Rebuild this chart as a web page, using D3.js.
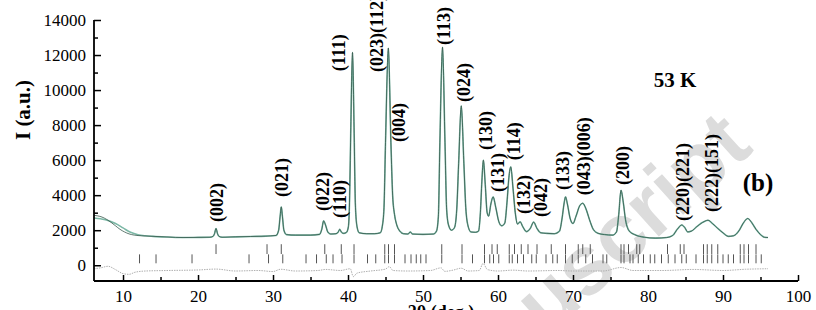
<!DOCTYPE html>
<html>
<head>
    <meta charset="utf-8">
    <title>xrd 53K</title>
    <script type="text/javascript" src="https://d3js.org/d3.v7.min.js"></script>
    <style>
      body { margin: 0; background: #fff; }
      text { font-family: "Liberation Serif", "Times New Roman", serif; }
    </style>
</head>
<body>
<script type="text/javascript">

        var observed = [
            [6.13,2850],[6.6,2820],[7.2,2750],[7.8,2620],[8.4,2450],[9.0,2250],[9.6,2050],[10.2,1900],
            [10.8,1790],[11.5,1720],[12.5,1680],[14,1650],[16,1610],[18,1580],[20,1590],[21.6,1600],
            [22.0,1650],[22.2,1800],[22.4,2100],[22.6,1800],[22.8,1650],[23.2,1600],[25,1620],[27,1640],
            [29,1660],[30.4,1700],[30.75,2000],[30.95,2800],[31.1,3330],[31.25,2800],[31.45,2000],[31.8,1750],
            [33,1720],[35,1720],[36.2,1760],[36.5,2050],[36.75,2530],[37.0,2300],[37.3,1900],[37.7,1780],
            [38.4,1800],[38.7,1900],[38.9,2050],[39.1,1900],[39.4,1820],[39.8,1880],[40.05,2200],[40.2,3600],
            [40.36,7500],[40.6,12150],[40.82,7500],[40.97,3600],[41.2,2200],[41.5,1850],[42.5,1800],[43.5,1800],
            [44.3,1850],[44.6,2300],[44.8,3300],[45.0,7000],[45.38,12400],[45.72,7000],[45.95,4000],[46.2,2900],
            [46.5,2300],[46.9,1950],[47.4,1800],[48.0,1780],[48.3,1900],[48.6,1780],[50,1760],[51.4,1780],
            [51.8,1950],[52.05,2800],[52.25,7000],[52.6,12450],[52.93,7000],[53.15,3200],[53.4,2300],[53.8,2000],
            [54.2,2150],[54.5,3200],[54.75,5800],[55.1,9100],[55.45,5800],[55.7,3300],[56.0,2250],[56.4,1900],
            [57.0,1880],[57.4,1950],[57.65,3000],[57.85,4800],[58.05,6000],[58.3,4600],[58.55,3000],[58.75,2800],
            [59.05,3500],[59.35,3900],[59.7,3300],[60.1,2500],[60.5,2250],[60.9,2400],[61.2,3600],[61.45,5000],
            [61.7,5620],[62.0,4400],[62.3,3000],[62.6,2350],[62.95,2480],[63.3,2200],[63.8,1920],[64.3,2100],
            [64.75,2460],[65.2,2100],[65.7,1850],[66.5,1820],[67.5,1800],[68.2,1950],[68.55,2700],[68.8,3500],
            [69.0,3900],[69.25,3500],[69.6,2700],[70.0,2380],[70.4,2800],[70.9,3400],[71.3,3540],[71.7,3250],
            [72.2,2600],[72.7,2050],[73.3,1830],[74.2,1750],[75.3,1720],[75.8,1900],[76.1,2900],[76.4,4285],
            [76.7,3600],[77.0,2600],[77.5,1950],[78.2,1750],[79.5,1600],[81,1550],[82.5,1580],[83.3,1700],
            [83.9,2050],[84.5,2300],[84.9,2150],[85.3,1900],[85.8,1950],[86.5,2200],[87.3,2450],[88.0,2570],
            [88.6,2380],[89.3,2100],[90.0,1850],[90.7,1650],[91.4,1680],[92.1,1950],[92.7,2400],[93.3,2670],
            [93.8,2450],[94.4,2050],[95.0,1750],[95.5,1600],[96.0,1580]
        ];
        // calculated curve only departs from the observed one at low angle
        var calcLow = [
            [6.13,2700],[7,2650],[8,2560],[9,2380],[10,2130],[11,1880],[12,1740],[13,1680]
        ];
        // obs - calc
        var difference = [
            [6.13,-200],[7,-150],[8,-60],[9,-250],[10,-480],[10.8,-520],[11.6,-400],[13,-330],[16,-300],
            [20,-270],[22.4,-220],[25,-330],[28,-300],[30,-360],[31,-230],[33,-330],[36,-300],[37,-240],
            [39,-300],[40.3,-200],[40.7,-650],[41.2,-450],[43,-330],[45,-220],[45.5,-80],[46,-300],[48,-330],
            [51,-300],[52.4,-150],[52.9,-350],[54,-280],[55.1,-170],[56,-330],[57.5,-300],[58,100],[58.6,-250],
            [60,-330],[62,-280],[64,-330],[68,-300],[70,-330],[74,-330],[76.4,-130],[78,-300],[82,-300],
            [86,-240],[90,-300],[93,-230],[96,-200]
        ];
        var braggUpper = [22.4, 29.2, 31.1, 36.9, 39.1, 40.8, 44.9, 45.4, 46.2, 52.5, 55.2, 58.2, 59.2, 59.9,
            61.5, 62.2, 63.1, 64.0, 65.2, 67.1, 69.0, 70.7, 71.3, 72.3, 76.4, 76.8, 77.4, 78.5, 78.9, 82.6,
            84.3, 84.8, 87.4, 87.9, 88.5, 89.3, 92.3, 92.8, 93.4, 94.4];
        var braggLower = [12.2, 14.4, 19.2, 26.8, 29.4, 31.3, 34.4, 35.8, 37.1, 38.0, 39.2, 40.8, 42.6, 43.7,
            44.9, 45.4, 46.2, 47.6, 48.4, 49.1, 49.7, 50.4, 52.5, 55.2, 56.6, 58.2, 58.9, 59.4, 60.1, 61.5,
            61.9, 62.6, 63.4, 64.5, 65.1, 66.4, 67.3, 67.9, 69.0, 69.9, 70.7, 71.7, 72.6, 74.0, 74.5, 76.4,
            76.8, 77.6, 78.0, 78.7, 79.4, 80.3, 80.9, 81.8, 82.7, 83.6, 84.5, 85.1, 86.4, 87.4, 87.9, 88.5,
            89.3, 90.0, 90.7, 91.4, 92.3, 92.8, 93.4, 94.4, 95.1];
        var braggRows = [[1200, 640], [620, 110]];

        var hklText  = ["(002)","(021)","(022)","(110)","(111)","(023)(112)","(004)","(113)","(024)","(130)",
                        "(131)","(114)","(132)","(042)","(133)","(043)(006)","(200)","(220)(221)","(222)(151)"];
        var hklAngle = [22.49, 31.16, 36.6, 38.84, 38.8, 43.8, 46.77, 52.77, 55.36, 58.33,
                        59.97, 62.1, 63.44, 65.67, 68.56, 71.44, 76.56, 84.56, 88.43];
        var hklBase  = [2465, 3890, 3090, 2690, 11080, 11030, 7030, 12570, 9320, 6575,
                        4180, 6000, 2920, 2750, 4290, 4000, 4580, 2520, 3040];

        var xMajor = [10, 20, 30, 40, 50, 60, 70, 80, 90, 100];
        var xMinor = [15, 25, 35, 45, 55, 65, 75, 85, 95];
        var yMajor = [0, 2000, 4000, 6000, 8000, 10000, 12000, 14000];
        var yMinor = [1000, 3000, 5000, 7000, 9000, 11000, 13000];

        var width = 816
        var height = 310

        var svg = d3.select("body").append("svg").attr("width", width).attr("height", height)

        var x = d3.scaleLinear().domain([6.13, 100]).range([94, 798])
        var y = d3.scaleLinear().domain([-900, 14000]).range([281, 20])

        // watermark
        svg.append("text")
            .attr("transform", "translate(755,150) rotate(-42)")
            .attr("text-anchor", "end")
            .style("font-family", "'Liberation Sans', Arial, sans-serif")
            .style("font-weight", "bold")
            .style("font-size", "84px")
            .attr("fill", "#dcdcdc")
            .text("Manuscript")

        var line = d3.line()
            .x(function(d) { return x(d[0]) })
            .y(function(d) { return y(d[1]) })
            .curve(d3.curveMonotoneX)

        // difference curve
        svg.append("path")
            .datum(difference)
            .attr("d", line)
            .attr("fill", "none")
            .attr("stroke", "#b0b0b0")
            .attr("stroke-width", 1)
            .attr("stroke-dasharray", "1.5,1")

        // bragg positions
        var rows = [braggUpper, braggLower]
        for (var r = 0; r < rows.length; r++) {
            svg.selectAll(".bragg" + r)
                .data(rows[r])
                .enter()
                .append("line")
                .attr("class", "bragg" + r)
                .attr("x1", function(d) { return x(d) })
                .attr("x2", function(d) { return x(d) })
                .attr("y1", y(braggRows[r][0]))
                .attr("y2", y(braggRows[r][1]))
                .attr("stroke", "#555")
                .attr("stroke-width", 1)
        }

        // calculated then observed
        var calc = calcLow.concat(observed.filter(function(d) { return d[0] > 13 }))
        svg.append("path")
            .datum(calc)
            .attr("d", line)
            .attr("fill", "none")
            .attr("stroke", "#7cb8a6")
            .attr("stroke-width", 1.6)

        svg.append("path")
            .datum(observed)
            .attr("d", line)
            .attr("fill", "none")
            .attr("stroke", "#35574a")
            .attr("stroke-width", 0.8)

        // hkl labels
        svg.selectAll(".hkl")
            .data(hklText)
            .enter()
            .append("text")
            .attr("class", "hkl")
            .attr("transform", function(d, i) {
                return "translate(" + x(hklAngle[i]) + "," + y(hklBase[i]) + ") rotate(-90)"
            })
            .attr("dy", "0.35em")
            .style("font-weight", "bold")
            .style("font-size", "18px")
            .text(function(d) { return d })

        // axes
        var xAxis = svg.append("g").attr("transform", "translate(0," + 281 + ")")
            .call(d3.axisBottom(x).tickValues(xMajor).tickSize(-6).tickPadding(6))
        xAxis.append("g")
            .call(d3.axisBottom(x).tickValues(xMinor).tickSize(-4).tickFormat(""))
            .select(".domain").remove()
        xAxis.select(".domain").attr("d", "M" + x(6.13) + ",0H" + x(100))

        var yAxis = svg.append("g").attr("transform", "translate(" + 94 + ",0)")
            .call(d3.axisLeft(y).tickValues(yMajor).tickSize(-7).tickPadding(8).tickFormat(d3.format("d")))
        yAxis.append("g")
            .call(d3.axisLeft(y).tickValues(yMinor).tickSize(-4).tickFormat(""))
            .select(".domain").remove()
        yAxis.select(".domain").attr("d", "M0," + y(14000) + "V" + y(-900))

        svg.selectAll(".domain").attr("stroke", "#000").attr("stroke-width", 1.8)
        svg.selectAll(".tick line").attr("stroke", "#000").attr("stroke-width", 1.5)
        svg.selectAll(".tick text")
            .style("font-family", "'Liberation Serif', serif")
            .style("font-size", "17px")
            .attr("fill", "#000")
        xAxis.selectAll(".tick text").attr("dy", "0.9em")

        svg.append("text")
            .attr("transform", "translate(30,110) rotate(-90)")
            .attr("text-anchor", "middle")
            .style("font-weight", "bold")
            .style("font-size", "21px")
            .text("I (a.u.)")

        svg.append("text")
            .attr("x", 441).attr("y", 318)
            .attr("text-anchor", "middle")
            .style("font-weight", "bold")
            .style("font-size", "18px")
            .text("2θ (deg.)")

        svg.append("text")
            .attr("x", 675).attr("y", 87)
            .attr("text-anchor", "middle")
            .style("font-weight", "bold")
            .style("font-size", "21px")
            .text("53 K")

        svg.append("text")
            .attr("x", 758).attr("y", 191)
            .attr("text-anchor", "middle")
            .style("font-weight", "bold")
            .style("font-size", "25px")
            .text("(b)")

</script>
</body>
</html>
